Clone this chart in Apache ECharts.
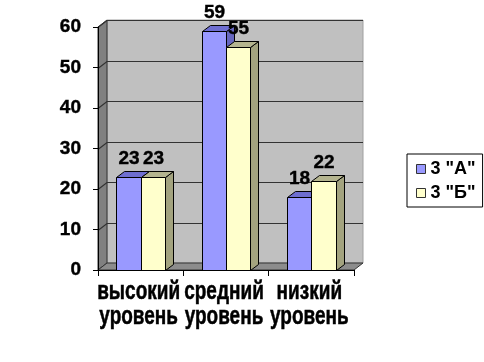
<!DOCTYPE html>
<html>
<head>
<meta charset="utf-8">
<script src="https://cdn.jsdelivr.net/npm/echarts@6/dist/echarts.min.js"></script>
<style>html,body{margin:0;padding:0;background:#fff}#c{width:484px;height:362px}</style>
</head>
<body>
<div id="c"></div>
<script>
const categories = ['высокий\nуровень', 'средний\nуровень', 'низкий\nуровень'];
const seriesNames = ['3 "А"', '3 "Б"'];
const valuesA = [23, 59, 18];
const valuesB = [23, 55, 22];
const yTicks = [0, 10, 20, 30, 40, 50, 60];

const FONT = '"Liberation Sans", Arial, sans-serif';
const faceColors = [
  {front: '#9999ff', top: '#6e6ed0', side: '#6666c0'},
  {front: '#ffffcc', top: '#b4b48f', side: '#a3a37f'}
];
const BDX = 8, BDY = 6, WDX = 9, WDY = 7;

function wallsRender(params, api) {
  const cs = params.coordSys;
  const gx = cs.x, gy = cs.y, gw = cs.width, gh = cs.height;
  const ch = [];
  ch.push({type: 'polygon', shape: {points: [[gx + WDX, gy - WDY], [gx + gw + WDX, gy - WDY], [gx + gw + WDX, gy + gh - WDY], [gx + WDX, gy + gh - WDY]]},
    style: {fill: '#c0c0c0', stroke: '#a0a0a0', lineWidth: 1}});
  ch.push({type: 'line', shape: {x1: gx + WDX, y1: gy - WDY + 0.5, x2: gx + gw + WDX, y2: gy - WDY + 0.5}, style: {stroke: '#444', lineWidth: 1}});
  ch.push({type: 'polygon', shape: {points: [[gx, gy], [gx + WDX, gy - WDY], [gx + WDX, gy + gh - WDY], [gx, gy + gh]]},
    style: {fill: '#808080', stroke: '#333', lineWidth: 1}});
  ch.push({type: 'polygon', shape: {points: [[gx, gy + gh], [gx + WDX, gy + gh - WDY], [gx + gw + WDX, gy + gh - WDY], [gx + gw, gy + gh]]},
    style: {fill: '#8c8c8c', stroke: '#333', lineWidth: 1}});
  yTicks.forEach(function (t) {
    if (t === 0) return;
    const y = Math.round(api.coord([0, t])[1]) + 0.5;
    ch.push({type: 'polyline', shape: {points: [[gx, y], [gx + WDX, y - WDY], [gx + gw + WDX, y - WDY]]},
      style: {fill: null, stroke: '#333', lineWidth: 1.2}});
  });
  return {type: 'group', children: ch};
}

function labelRender(params, api) {
  const ci = api.value(0);
  const p = api.coord([ci, 0]);
  return {type: 'text', x: p[0] - 2, y: p[1] + 10, scaleX: 0.76,
    style: {text: categories[ci], align: 'center', verticalAlign: 'top', font: 'bold 25px ' + FONT, lineHeight: 25, fill: '#000',
      stroke: '#000', lineWidth: 0.5}};
}

function barRender(si) {
  return function (params, api) {
    const ci = api.value(0), v = api.value(1);
    const base = api.coord([ci, 0]);
    const top = api.coord([ci, v]);
    const band = api.size([1, 0])[0];
    const w = band * 0.287;
    const x0 = Math.round(si === 0 ? base[0] - w : base[0]) + 0.5;
    const x1 = Math.round(si === 0 ? base[0] : base[0] + w) + 0.5;
    const yb = Math.round(base[1]) + 0.5;
    const yt = Math.round(top[1]) + 0.5;
    const c = faceColors[si];
    const st = {stroke: '#000', lineWidth: 1};
    return {type: 'group', children: [
      {type: 'polygon', shape: {points: [[x1, yt], [x1 + BDX, yt - BDY], [x1 + BDX, yb - BDY], [x1, yb]]}, style: Object.assign({fill: c.side}, st)},
      {type: 'polygon', shape: {points: [[x0, yt], [x0 + BDX, yt - BDY], [x1 + BDX, yt - BDY], [x1, yt]]}, style: Object.assign({fill: c.top}, st)},
      {type: 'rect', shape: {x: x0, y: yt, width: x1 - x0, height: yb - yt}, style: Object.assign({fill: c.front}, st)},
      {type: 'text', style: {text: String(v), x: (x0 + x1) / 2, y: yt - 9, align: 'center', verticalAlign: 'bottom',
        font: 'bold 19px ' + FONT, fill: '#000', stroke: '#000', lineWidth: 0.4}}
    ]};
  };
}

function toData(vals) { return vals.map(function (v, i) { return [i, v]; }); }

const chart = echarts.init(document.getElementById('c'), null, {renderer: 'canvas'});
chart.setOption({
  animation: false,
  backgroundColor: '#fff',
  grid: {left: 98, right: 130, top: 27, bottom: 92, containLabel: false},
  legend: {
    orient: 'vertical', left: 407, top: 154,
    borderColor: '#000', borderWidth: 1, borderRadius: 0, backgroundColor: '#fff',
    padding: [6, 7, 5, 9], itemWidth: 9, itemHeight: 9, itemGap: 6,
    textStyle: {fontFamily: FONT, fontWeight: 'bold', fontSize: 18, color: '#000'},
    data: [
      {name: seriesNames[0], icon: 'rect', itemStyle: {color: faceColors[0].front, borderColor: '#333', borderWidth: 1}},
      {name: seriesNames[1], icon: 'rect', itemStyle: {color: faceColors[1].front, borderColor: '#333', borderWidth: 1}}
    ]
  },
  xAxis: {
    type: 'category', data: categories, z: 5,
    axisLine: {show: true, lineStyle: {color: '#000', width: 1}},
    axisTick: {show: true, length: 6, lineStyle: {color: '#000'}},
    axisLabel: {show: false},
    splitLine: {show: false}
  },
  yAxis: {
    type: 'value', min: yTicks[0], max: yTicks[yTicks.length - 1], interval: 10, z: 5,
    axisLine: {show: true, lineStyle: {color: '#000', width: 1}},
    axisTick: {show: true, length: 5, lineStyle: {color: '#000'}},
    axisLabel: {margin: 17, color: '#000', fontFamily: FONT, fontWeight: 'bold', fontSize: 19, textBorderColor: '#000', textBorderWidth: 0.4},
    splitLine: {show: false}
  },
  series: [
    {type: 'custom', name: '_walls', renderItem: wallsRender, data: [[0, 0]], z: 1, silent: true},
    {type: 'custom', name: '_labels', renderItem: labelRender, data: toData([0, 0, 0]), z: 4, silent: true, clip: false},
    {type: 'custom', name: seriesNames[0], renderItem: barRender(0), data: toData(valuesA), z: 2,
      itemStyle: {color: faceColors[0].front}, encode: {x: 0, y: 1}},
    {type: 'custom', name: seriesNames[1], renderItem: barRender(1), data: toData(valuesB), z: 3,
      itemStyle: {color: faceColors[1].front}, encode: {x: 0, y: 1}}
  ]
});
</script>
</body>
</html>
